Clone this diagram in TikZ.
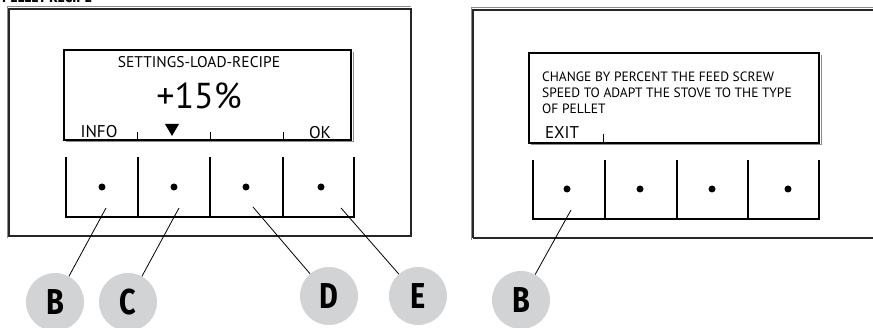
\documentclass[tikz,border=0pt]{standalone}
\usepackage{fontspec}
\setmainfont{PT Sans}
\newfontfamily\tagfont{Fira Sans}
\usepackage{tikz}
\usetikzlibrary{positioning}
\definecolor{tagfill}{HTML}{D1D3D4}

\begin{document}
\begin{tikzpicture}[
    x=1pt, y=-1pt,
    frame/.style = {line width=1.3pt, draw=black!85},
    shade/.style = {line width=1pt, draw=black!45},
    lcd/.style = {line width=1.4pt, draw=black},
    keyline/.style = {line width=2pt},
    keydot/.style = {circle, fill=black, inner sep=0pt, minimum size=7pt},
    lcdtext/.style = {inner sep=0pt, font=\fontsize{15.5}{17}\selectfont},
    softkey/.style = {inner sep=0pt, font=\fontsize{17}{19}\selectfont},
    tag/.style = {circle, fill=tagfill, minimum size=58pt, inner sep=0pt, font=\tagfont\bfseries\fontsize{36}{36}\selectfont},
    lead/.style = {line width=0.8pt}
]
    \clip (0,0) rectangle (873,328);
    \node[anchor=base west, inner sep=0pt, font=\tagfont\bfseries\fontsize{16}{16}\selectfont] (title) at (2,3) {\scalebox{0.85}[1]{PELLET RECIPE}};

    % left panel
    \draw[shade] (7,238) -- (7,7) -- (411,7);
    \draw[frame] (9,236) -- (9,9) -- (411,9) -- (411,236) -- cycle;
    \draw[shade] (353,52) -- (353,142) -- (66,142);
    \draw[lcd] (64,50) rectangle (351,140);
    \node[lcdtext] (menu) at (199,62) {SETTINGS-LOAD-RECIPE};
    \node[inner sep=0pt, font=\fontsize{36}{36}\selectfont] (value) at (199,96) {+15\%};
    \node[softkey] (info) at (99,132) {INFO};
    \fill (165,124) -- (179,124) -- (172,136) -- cycle;
    \node[softkey] (ok) at (320,133) {OK};
    \foreach \x in {137,210,283} \draw[thin] (\x,132) -- (\x,140);
    \foreach \x in {66,138,210,283,354} \draw[keyline] (\x,157) -- (\x,217);
    \draw[keyline] (65,217) -- (355,217);
    \foreach \x/\n in {102/1,174/2,246/3,321/4} \node[keydot] (keyL\n) at (\x,187) {};

    \node[tag] (tagB) at (55,302) {\scalebox{0.8}[1]{B}};
    \node[tag] (tagC) at (128,302) {\scalebox{0.8}[1]{C}};
    \node[tag] (tagD) at (329,296) {\scalebox{0.8}[1]{D}};
    \node[tag] (tagE) at (418,296) {\scalebox{0.8}[1]{E}};
    \coordinate (pinB) at (106,208);
    \coordinate (pinC) at (179,208);
    \coordinate (pinD) at (253,207);
    \coordinate (pinE) at (341,208);
    \draw[lead] (pinB) -- (tagB);
    \draw[lead] (pinC) -- (tagC);
    \draw[lead] (pinD) -- (tagD);
    \draw[lead] (pinE) -- (tagE);

    % right panel
    \draw[shade] (471,240) -- (471,8) -- (880,8);
    \draw[frame] (473,238) -- (473,10) -- (880,10);
    \draw[frame] (473,238) -- (880,238);
    \draw[shade] (821,55) -- (821,145) -- (531,145);
    \draw[lcd] (529,53) rectangle (819,143);
    \node[anchor=north west, align=left, inner sep=0pt, font=\fontsize{13.5}{16}\selectfont] (help) at (542,72) {CHANGE BY PERCENT THE FEED SCREW\\SPEED TO ADAPT THE STOVE TO THE TYPE\\OF PELLET};
    \node[softkey] (exit) at (562,133) {EXIT};
    \draw[thin] (603,134) -- (603,142);
    \foreach \x in {533,605,677,748,819} \draw[keyline] (\x,160) -- (\x,219);
    \draw[keyline] (532,219) -- (820,219);
    \foreach \x/\n in {567/1,640/2,712/3,788/4} \node[keydot] (keyR\n) at (\x,189) {};

    \node[tag] (tagB2) at (521,300) {\scalebox{0.8}[1]{B}};
    \coordinate (pinB2) at (571,210);
    \draw[lead] (pinB2) -- (tagB2);
\end{tikzpicture}
\end{document}
